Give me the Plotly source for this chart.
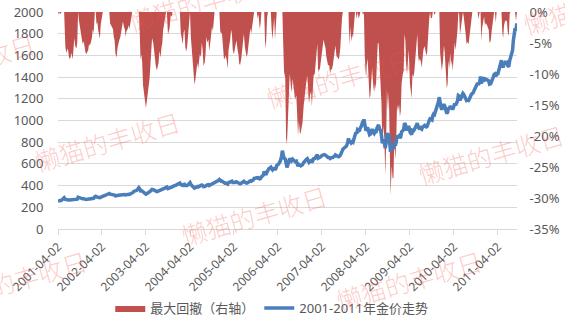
import numpy as np
import pandas as pd
import plotly.graph_objects as go

# Gold price (USD/oz), sampled on the 2nd, 9th, 16th and 23rd of every month.
# Each line holds four months.
gold_2001 = [  # Apr - Dec
    257, 256, 263, 262,  266, 271, 279, 289,  273, 270, 271, 272,  268, 267, 268, 270,
    267, 272, 277, 273,  272, 275, 293, 289,  286, 283, 280, 278,  279, 275, 274, 273,
    274, 275, 278, 277,
]
gold_2002 = [
    279, 281, 285, 283,  298, 301, 295, 296,  292, 290, 288, 295,  300, 303, 304, 308,
    311, 314, 316, 323,  327, 321, 320, 319,  318, 314, 312, 305,  303, 308, 311, 312,
    314, 317, 320, 322,  319, 318, 314, 317,  318, 320, 318, 321,  325, 329, 337, 347,
]
gold_2003 = [
    348, 355, 357, 366,  381, 370, 352, 355,  350, 336, 332, 330,  322, 326, 330, 333,
    340, 348, 357, 365,  362, 356, 355, 348,  345, 347, 350, 357,  353, 359, 362, 370,
    375, 378, 384, 387,  373, 375, 377, 385,  384, 390, 396, 397,  402, 405, 410, 414,
]
gold_2004 = [
    418, 424, 410, 405,  402, 410, 412, 400,  397, 400, 407, 418,  427, 410, 402, 397,
    388, 377, 380, 386,  392, 388, 393, 398,  396, 406, 401, 390,  392, 398, 410, 406,
    408, 400, 405, 409,  417, 414, 420, 428,  433, 437, 444, 447,  456, 442, 440, 441,
]
gold_2005 = [
    428, 421, 422, 424,  420, 414, 428, 431,  436, 443, 440, 428,  425, 429, 434, 435,
    428, 425, 418, 417,  422, 428, 437, 440,  430, 424, 423, 425,  432, 441, 444, 440,
    445, 451, 465, 469,  472, 474, 469, 472,  461, 465, 480, 493,  497, 530, 505, 499,
]
gold_2006 = [
    525, 545, 555, 562,  570, 554, 545, 555,  565, 545, 557, 585,  590, 600, 615, 630,
    670, 722, 685, 652,  645, 575, 568, 590,  630, 650, 640, 628,  644, 636, 626, 620,
    625, 596, 578, 595,  580, 582, 588, 593,  613, 625, 627, 640,  648, 628, 615, 624,
]
gold_2007 = [
    630, 612, 630, 648,  650, 665, 668, 685,  652, 655, 655, 664,  678, 680, 690, 685,
    680, 670, 665, 660,  660, 650, 655, 655,  660, 668, 670, 683,  670, 670, 667, 668,
    680, 710, 715, 735,  745, 750, 765, 765,  795, 835, 790, 815,  795, 805, 800, 822,
]
gold_2008 = [
    865, 890, 880, 915,  905, 910, 935, 945,  975, 970, 1011, 940,  905, 925, 935, 905,
    870, 875, 905, 920,  890, 880, 895, 885,  930, 960, 960, 925,  905, 860, 790, 825,
    805, 745, 790, 885,  850, 880, 800, 712,  760, 740, 740, 800,  770, 800, 860, 850,
]
gold_2009 = [
    860, 840, 850, 895,  910, 915, 975, 965,  925, 910, 930, 950,  895, 885, 870, 910,
    905, 915, 930, 955,  975, 940, 930, 935,  930, 920, 940, 950,  955, 945, 940, 945,
    990, 1000, 1015, 1005,  1005, 1045, 1060, 1055,  1085, 1105, 1140, 1165,  1215, 1135, 1120, 1100,
]
gold_2010 = [
    1120, 1150, 1135, 1095,  1065, 1075, 1120, 1105,  1135, 1110, 1120, 1100,  1125, 1155, 1140, 1155,
    1180, 1230, 1225, 1185,  1210, 1225, 1250, 1240,  1210, 1205, 1185, 1190,  1185, 1200, 1225, 1235,
    1250, 1255, 1275, 1295,  1315, 1345, 1345, 1330,  1355, 1405, 1340, 1370,  1390, 1395, 1375, 1380,
]
gold_2011 = [  # Jan - Aug
    1375, 1370, 1365, 1335,  1340, 1360, 1375, 1400,  1425, 1430, 1405, 1430,  1430, 1465, 1490, 1505,
    1555, 1505, 1490, 1520,  1535, 1530, 1535, 1505,  1495, 1550, 1590, 1600,  1645, 1740, 1785, 1850,
]
tail_dates = ["2011-08-30", "2011-09-06", "2011-09-08"]
tail_prices = [1825, 1895, 1858]

sample_days = [2, 9, 16, 23]
years = [
    (2001, 4, gold_2001), (2002, 1, gold_2002), (2003, 1, gold_2003),
    (2004, 1, gold_2004), (2005, 1, gold_2005), (2006, 1, gold_2006),
    (2007, 1, gold_2007), (2008, 1, gold_2008), (2009, 1, gold_2009),
    (2010, 1, gold_2010), (2011, 1, gold_2011),
]

dates, prices = [], []
for year, first_month, vals in years:
    assert len(vals) % 4 == 0
    for i, v in enumerate(vals):
        month = first_month + i // 4
        dates.append(pd.Timestamp(year, month, sample_days[i % 4]))
        prices.append(v)
dates += [pd.Timestamp(d) for d in tail_dates]
prices += tail_prices

price = np.array(prices, dtype=float)
drawdown = price / np.maximum.accumulate(price) - 1.0

x_tick_labels = [f"{y}-04-02" for y in range(2001, 2012)]
price_ticks = list(range(0, 2001, 200))
dd_ticks = [0, -0.05, -0.10, -0.15, -0.20, -0.25, -0.30, -0.35]
dd_tick_text = ["0%", "-5%", "-10%", "-15%", "-20%", "-25%", "-30%", "-35%"]

DD_NAME = "最大回撤（右轴）"
PRICE_NAME = "2001-2011年金价走势"
WATERMARK = "懒猫的丰收日"

W, H = 565, 325
ML, MR, MT, MB = 58, 48, 12, 96
TEXT = "#595959"
GRID = "#D9D9D9"
FONT = "Noto Sans, Noto Sans CJK SC, sans-serif"

fig = go.Figure()
fig.add_trace(go.Scatter(
    x=dates, y=drawdown, yaxis="y", mode="lines", name=DD_NAME,
    fill="tozeroy", fillcolor="#C0504D",
    line=dict(width=0, color="#C0504D"), hoverinfo="skip",
))
fig.add_trace(go.Scatter(
    x=dates, y=price, yaxis="y2", mode="lines", name=PRICE_NAME,
    line=dict(color="#4A7EBB", width=3.5), hoverinfo="skip",
))

# repeated watermark (pixel centres on the page)
wm_centres = [(-38, 63), (107, 141), (201, 1), (339, 78), (596, 4),
              (491, 154), (254, 215), (14, 280), (409, 280)]
pw, ph = W - ML - MR, H - MT - MB
annotations = []
for cx, cy in wm_centres:
    annotations.append(dict(
        x=(cx - ML) / pw, y=(MT + ph - cy) / ph, xref="paper", yref="paper",
        text=WATERMARK, showarrow=False, textangle=-16,
        xanchor="center", yanchor="middle",
        font=dict(family="Noto Sans CJK SC", size=25, weight=300,
                  color="rgba(245,80,70,0.30)"),
    ))

fig.update_layout(
    width=W, height=H,
    margin=dict(l=ML, r=MR, t=MT, b=MB, autoexpand=False),
    paper_bgcolor="white", plot_bgcolor="white",
    font=dict(family=FONT, size=12, color=TEXT),
    showlegend=True,
    legend=dict(
        orientation="h", xref="container", yref="container",
        x=0.481, y=0.052, xanchor="center", yanchor="middle",
        font=dict(family=FONT, size=13, color=TEXT),
        bgcolor="rgba(0,0,0,0)",
    ),
    xaxis=dict(
        type="date", range=["2001-04-02", "2011-09-08"],
        tickvals=x_tick_labels, ticktext=x_tick_labels, tickangle=-45,
        ticks="outside", ticklen=5, tickcolor=GRID,
        showline=True, linecolor=GRID, linewidth=1,
        showgrid=False, zeroline=False, automargin=False,
        tickfont=dict(size=12, color=TEXT),
    ),
    yaxis=dict(
        side="right", range=[-0.35, 0],
        tickvals=dd_ticks, ticktext=dd_tick_text,
        showgrid=False, zeroline=False, showline=False,
        ticks="outside", ticklen=9, tickcolor="rgba(0,0,0,0)",
        automargin=False,
        tickfont=dict(size=13, color=TEXT),
    ),
    yaxis2=dict(
        overlaying="y", side="left", range=[0, 2000],
        tickvals=price_ticks,
        showgrid=True, gridcolor=GRID, gridwidth=1,
        zeroline=False, showline=False,
        ticks="outside", ticklen=11, tickcolor="rgba(0,0,0,0)",
        automargin=False,
        tickfont=dict(size=13, color=TEXT),
    ),
    annotations=annotations,
)

fig.write_html("out.html")
